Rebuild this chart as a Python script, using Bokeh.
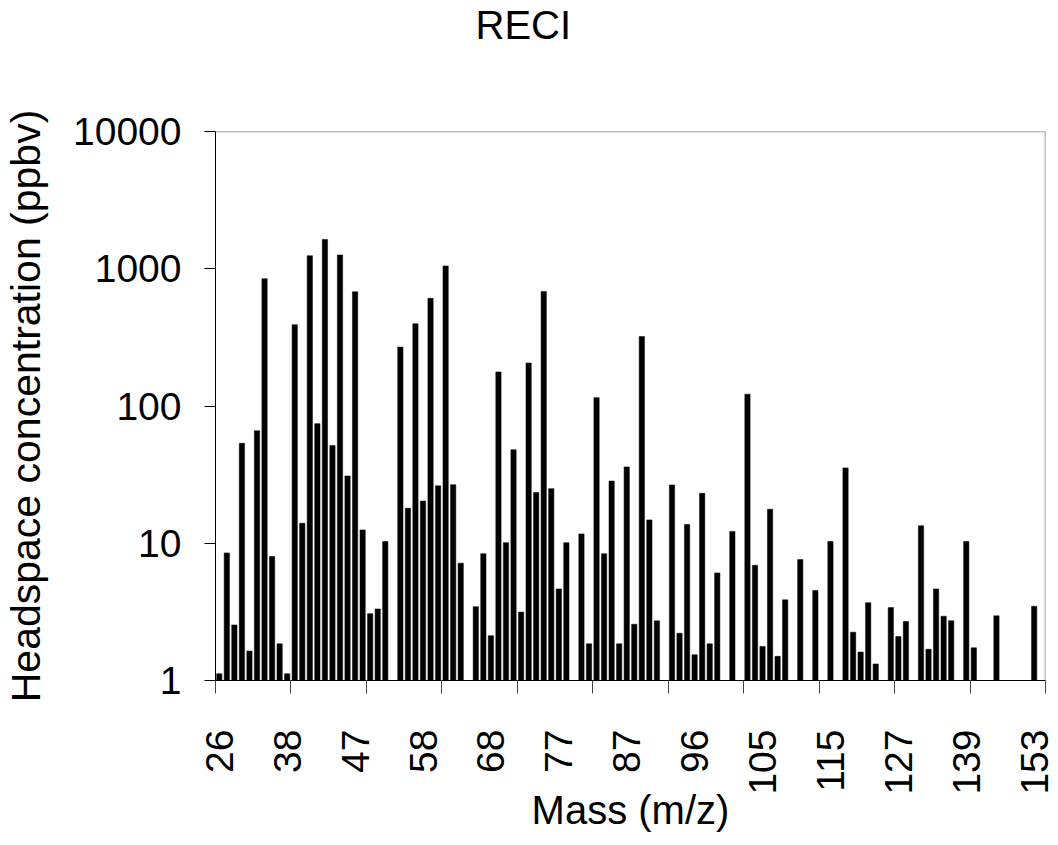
import math
from bokeh.plotting import figure
from bokeh.models import Range1d, FixedTicker, Span, ColumnDataSource, Title
from bokeh.embed import file_html
from bokeh.resources import INLINE

# ---- data ----
masses = [26, 27, 28, 29, 30, 31, 33, 34, 35, 38,
          39, 40, 41, 42, 43, 44, 45, 46, 47,
          48, 49, 50, 51, 52, 53, 56, 57, 58,
          59, 60, 61, 62, 63, 65, 66, 67, 68,
          69, 70, 71, 72, 73, 74, 75, 76, 77,
          78, 79, 80, 81, 82, 83, 85, 86, 87,
          88, 89, 90, 91, 92, 93, 94, 95, 96,
          97, 98, 99, 100, 101, 102, 103, 104, 105,
          106, 107, 108, 109, 110, 111, 113, 114, 115,
          116, 117, 118, 119, 121, 123, 125, 126, 127,
          128, 129, 131, 133, 135, 136, 137, 138, 139,
          140, 142, 144, 146, 148, 150, 151, 152, 153,
          154]

values = [1.12, 8.5, 2.54, 53.5, 1.64, 66, 847, 8.0, 1.85, 1.12,
          391, 14.0, 1244, 74.4, 1636, 51.6, 1259, 30.9, 680,
          12.5, 3.07, 3.32, 10.3, None, 269, 18.0, 398, 20.3,
          609, 26.2, 1048, 26.7, 7.16, None, 3.45, 8.39, 2.12,
          177, 10.1, 48, 3.15, 206, 23.4, 684, 25.0, 4.65,
          10.1, None, 11.7, 1.85, 115, 8.39, 28.4, 1.85, 36.0,
          2.57, 321, 14.8, 2.72, None, 26.6, 2.21, 13.7, 1.54,
          23.1, 1.85, 6.08, None, 12.2, None, 122, 6.9, 1.77,
          17.7, 1.50, 3.87, None, 7.6, None, 4.53, None, 10.3,
          None, 35.4, 2.25, 1.61, 3.69, 1.32, None, 3.40, 2.09,
          2.69, None, 13.4, 1.69, 4.65, 2.94, 2.73, None, 10.3,
          1.73, None, None, 2.96, None, None, None, None, 3.47,
          None]

label_masses = [26, 38, 47, 58, 68, 77, 87, 96, 105, 115, 127, 139, 153]
y_ticks = [1, 10, 100, 1000, 10000]
title_text = "RECI"
x_title = "Mass (m/z)"
y_title = "Headspace concentration (ppbv)"

# ---- build ----
FONT = "Liberation Sans"
n = len(masses)
xs = [i for i, v in enumerate(values) if v is not None]
tops = [v for v in values if v is not None]
src = ColumnDataSource(dict(x=xs, top=tops, bottom=[y_ticks[0]] * len(xs)))

p = figure(width=1058, height=845,
           x_range=Range1d(-0.5, n - 0.5),
           y_range=Range1d(y_ticks[0], y_ticks[-1]),
           y_axis_type="log",
           output_backend="svg", toolbar_location=None,
           min_border_left=214, min_border_right=13,
           min_border_top=131, min_border_bottom=165)
p.title_location = None

p.vbar(x="x", top="top", bottom="bottom", width=0.7, source=src,
       fill_color="black", line_color="black", line_width=0.5)

p.grid.visible = False
p.outline_line_color = None
p.background_fill_color = "white"
p.border_fill_color = "white"

# top and right frame lines (gray)
p.add_layout(Span(location=y_ticks[-1], dimension="width",
                  line_color="#808080", line_width=1.5))
p.add_layout(Span(location=n - 0.5, dimension="height",
                  line_color="#808080", line_width=1.5))

# spacer (closest to the frame) and then the title above it
p.add_layout(Title(text=" ", text_font_size="1px", standoff=82), "above")
p.add_layout(Title(text=title_text, text_font=FONT, text_font_size="40px",
                   text_font_style="normal", text_color="black",
                   align="left", offset=260, standoff=0), "above")

# x axis
label_idx = [masses.index(m) for m in label_masses]
bounds = [i - 0.5 for i in range(0, n + 1, 10)]
xa = p.xaxis[0]
xa.ticker = FixedTicker(ticks=label_idx, minor_ticks=bounds)
xa.major_label_overrides = {i: str(m) for i, m in zip(label_idx, label_masses)}
xa.major_label_orientation = math.pi / 2
xa.major_tick_out = 0
xa.major_tick_in = 0
xa.minor_tick_out = 13
xa.minor_tick_in = 0
xa.minor_tick_line_color = "#444444"
xa.axis_line_color = "black"
xa.major_label_standoff = 36
xa.major_label_text_font = FONT
xa.major_label_text_font_size = "39px"
xa.major_label_text_color = "black"
xa.axis_label = x_title
xa.axis_label_text_font = FONT
xa.axis_label_text_font_size = "40px"
xa.axis_label_text_font_style = "normal"
xa.axis_label_text_color = "black"
xa.axis_label_standoff = -10

# y axis
ya = p.yaxis[0]
ya.ticker = FixedTicker(ticks=y_ticks, minor_ticks=[])
ya.major_label_overrides = {t: str(t) for t in y_ticks}
ya.major_tick_out = 11
ya.major_tick_in = 0
ya.minor_tick_out = 0
ya.minor_tick_in = 0
ya.axis_line_color = "black"
ya.major_tick_line_color = "black"
ya.major_label_standoff = 23
ya.major_label_text_font = FONT
ya.major_label_text_font_size = "39px"
ya.major_label_text_color = "black"
ya.axis_label = y_title
ya.axis_label_text_font = FONT
ya.axis_label_text_font_size = "41px"
ya.axis_label_text_font_style = "normal"
ya.axis_label_text_color = "black"
ya.axis_label_standoff = 21

open("out.html", "w").write(file_html(p, INLINE))
